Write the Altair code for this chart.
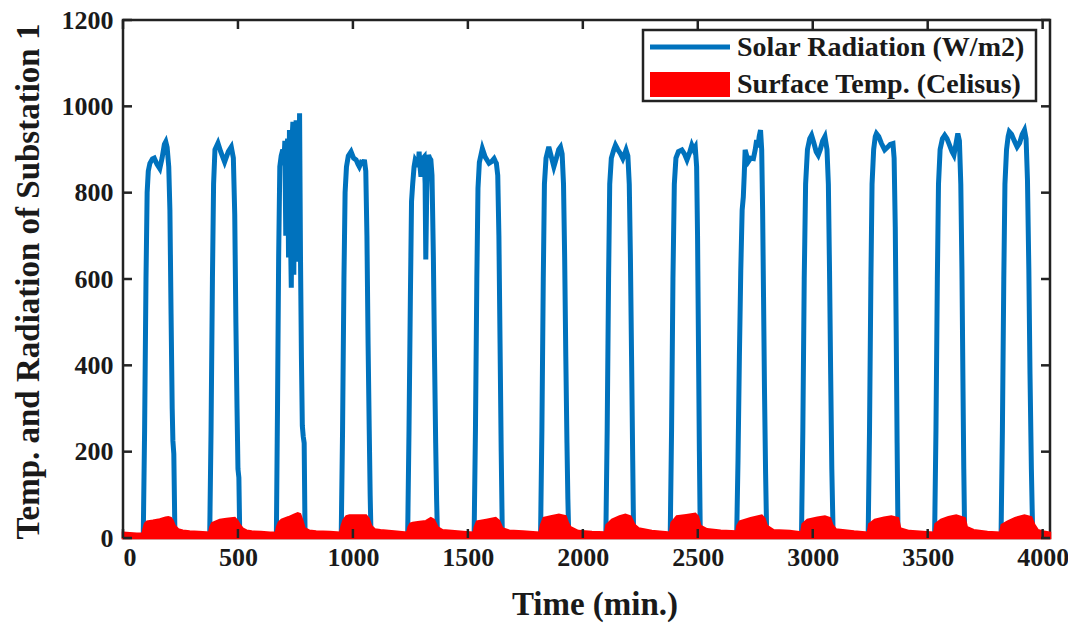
import altair as alt
import pandas as pd

# ---- axis definition values ----
x_ticks = [0, 500, 1000, 1500, 2000, 2500, 3000, 3500, 4000]
y_ticks = [0, 200, 400, 600, 800, 1000, 1200]
x_domain = [0, 4032]
y_domain = [0, 1200]
legend_labels = ["Solar Radiation (W/m2)", "Surface Temp. (Celisus)"]

# ---- solar radiation (W/m2), read per day: minute and value ----
day01_min = [88, 94, 100, 105, 110, 117, 128, 136, 148, 160, 170, 180, 186, 192, 199, 204, 209, 214, 217, 221, 226]
day01_rad = [0, 250, 600, 800, 850, 868, 878, 880, 866, 856, 880, 912, 918, 905, 860, 760, 520, 300, 225, 195, 0]
day02_min = [377, 383, 389, 394, 400, 413, 425, 442, 458, 471, 480, 486, 491, 496, 500, 504, 508]
day02_rad = [0, 250, 600, 820, 900, 915, 895, 871, 895, 906, 880, 750, 500, 300, 160, 140, 0]
day03_min = [667, 672, 677, 682, 688, 695, 700, 704, 708, 712, 716, 720, 724, 728, 732, 736, 739, 743,
             746, 750, 753, 757, 761, 764, 768, 772, 776, 780, 784, 788, 792]
day03_rad = [0, 300, 650, 860, 885, 900, 870, 920, 700, 890, 925, 650, 945, 720, 580, 930, 964, 610,
             960, 760, 968, 640, 935, 720, 984, 650, 420, 260, 235, 220, 0]
day04_min = [949, 955, 961, 966, 972, 980, 992, 1003, 1014, 1022, 1028, 1036, 1044, 1050, 1056, 1061, 1066, 1071, 1075, 1079]
day04_rad = [0, 250, 600, 800, 860, 885, 895, 880, 876, 866, 860, 870, 868, 876, 850, 700, 450, 250, 100, 0]
day05_min = [1238, 1244, 1250, 1255, 1260, 1266, 1271, 1278, 1284, 1288, 1292, 1296, 1300, 1305, 1310, 1314,
             1317, 1321, 1325, 1329, 1334, 1339, 1344, 1350, 1355, 1360, 1364, 1368]
day05_rad = [0, 250, 560, 780, 820, 860, 876, 870, 860, 895, 860, 837, 870, 880, 883, 822,
             645, 800, 870, 887, 880, 876, 840, 650, 420, 220, 90, 0]
day06_min = [1527, 1533, 1539, 1544, 1550, 1563, 1575, 1584, 1592, 1603, 1614, 1620, 1624, 1630, 1635, 1640, 1645, 1650]
day06_rad = [0, 250, 600, 810, 870, 902, 883, 875, 868, 872, 879, 872, 868, 840, 700, 450, 200, 0]
day07_min = [1816, 1822, 1828, 1833, 1840, 1852, 1862, 1874, 1885, 1895, 1903, 1910, 1916, 1921, 1926, 1931, 1935, 1939]
day07_rad = [0, 250, 600, 820, 880, 906, 885, 860, 880, 900, 906, 890, 820, 650, 420, 220, 90, 0]
day08_min = [2100, 2106, 2112, 2117, 2124, 2135, 2142, 2152, 2163, 2174, 2182, 2188, 2196, 2202, 2207, 2212, 2217, 2221]
day08_rad = [0, 250, 600, 820, 880, 900, 910, 900, 891, 879, 890, 899, 885, 820, 650, 420, 180, 0]
day09_min = [2380, 2386, 2392, 2398, 2405, 2416, 2431, 2442, 2453, 2464, 2474, 2482, 2489, 2495, 2499, 2503, 2507, 2511]
day09_rad = [0, 250, 600, 820, 880, 895, 899, 890, 876, 892, 910, 900, 906, 860, 700, 450, 200, 0]
day10_min = [2669, 2675, 2681, 2687, 2693, 2698, 2702, 2706, 2713, 2720, 2730, 2742, 2750, 2756, 2762,
             2767, 2773, 2778, 2782, 2786, 2790, 2795, 2800]
day10_rad = [0, 180, 420, 620, 760, 790, 840, 899, 885, 872, 880, 879, 900, 922, 905,
             930, 945, 900, 760, 560, 350, 150, 0]
day11_min = [2951, 2957, 2963, 2969, 2977, 2987, 2995, 3005, 3015, 3024, 3033, 3043, 3053, 3062, 3068, 3073, 3078, 3083, 3089]
day11_rad = [0, 250, 600, 820, 900, 925, 933, 915, 895, 887, 900, 920, 930, 900, 820, 620, 380, 160, 0]
day12_min = [3241, 3247, 3253, 3258, 3265, 3272, 3277, 3287, 3298, 3313, 3325, 3337, 3349, 3354, 3359, 3363, 3367, 3371]
day12_rad = [0, 250, 600, 820, 900, 930, 937, 930, 915, 899, 905, 912, 914, 880, 720, 480, 220, 0]
day13_min = [3530, 3536, 3542, 3547, 3554, 3564, 3574, 3584, 3595, 3606, 3614, 3622, 3631, 3638, 3644, 3649, 3653, 3657, 3661]
day13_rad = [0, 250, 600, 820, 900, 925, 933, 925, 910, 895, 887, 910, 937, 920, 820, 620, 380, 160, 0]
day14_min = [3819, 3825, 3831, 3836, 3843, 3850, 3855, 3865, 3877, 3889, 3900, 3911, 3921, 3928, 3934, 3940, 3945, 3951, 3957]
day14_rad = [0, 250, 600, 820, 900, 930, 941, 935, 920, 906, 915, 935, 945, 925, 830, 620, 380, 160, 0]

# ---- surface temperature (Celsius) ----
temp_min = [0, 30, 60, 85, 90, 96, 105, 130, 160, 185, 197, 208, 216, 225, 240, 260, 290, 330, 363,
            375, 380, 388, 421, 450, 486, 497, 508, 520, 537, 560, 600, 640,
            665, 670, 678, 690, 720, 746, 760, 770, 780, 790, 810, 840, 900,
            945, 951, 960, 972, 985, 1020, 1057, 1068, 1079, 1095, 1120, 1180,
            1236, 1242, 1250, 1260, 1290, 1318, 1339, 1352, 1368, 1390, 1430, 1480,
            1525, 1530, 1540, 1580, 1621, 1635, 1650, 1680, 1740,
            1812, 1818, 1830, 1860, 1896, 1925, 1935, 1945, 1980, 2040,
            2097, 2103, 2127, 2160, 2185, 2207, 2225, 2243, 2300, 2370,
            2380, 2386, 2409, 2450, 2489, 2500, 2511, 2540, 2600,
            2668, 2672, 2683, 2730, 2778, 2790, 2800, 2830, 2900,
            2950, 2956, 2977, 3020, 3053, 3075, 3085, 3100, 3180,
            3240, 3246, 3270, 3310, 3342, 3371, 3380, 3420, 3480,
            3528, 3534, 3558, 3590, 3624, 3661, 3670, 3700, 3760,
            3816, 3822, 3848, 3880, 3921, 3950, 3964, 3979, 4000, 4032]
temp_val = [12, 11, 10, 10, 22, 33, 38, 40, 43, 47, 48, 46, 40, 28, 20, 17, 15, 14, 13,
            12, 25, 34, 42, 44, 46, 40, 30, 22, 17, 15, 14, 12,
            12, 25, 36, 42, 48, 54, 57, 55, 40, 22, 17, 15, 14,
            12, 28, 42, 50, 52, 52, 52, 45, 28, 20, 18, 15,
            12, 25, 33, 35, 37, 39, 46, 42, 25, 18, 16, 14,
            12, 25, 38, 42, 46, 40, 22, 17, 15,
            12, 30, 46, 50, 54, 50, 35, 25, 16, 14,
            13, 30, 42, 50, 54, 50, 30, 22, 16, 13,
            13, 35, 50, 53, 56, 50, 28, 20, 17,
            15, 28, 38, 46, 52, 45, 28, 18, 16,
            13, 32, 42, 47, 50, 46, 30, 20, 15,
            12, 32, 42, 47, 50, 46, 22, 16, 14,
            12, 32, 42, 48, 52, 46, 25, 18, 14,
            12, 30, 38, 46, 52, 48, 30, 18, 15, 12]

# ---- assemble tables ----
days = [(day01_min, day01_rad), (day02_min, day02_rad), (day03_min, day03_rad), (day04_min, day04_rad),
        (day05_min, day05_rad), (day06_min, day06_rad), (day07_min, day07_rad), (day08_min, day08_rad),
        (day09_min, day09_rad), (day10_min, day10_rad), (day11_min, day11_rad), (day12_min, day12_rad),
        (day13_min, day13_rad), (day14_min, day14_rad)]
rad_m = [x_domain[0]]
rad_v = [0]
for m, v in days:
    rad_m += m
    rad_v += v
rad_m.append(x_domain[1])
rad_v.append(0)
rad_df = pd.DataFrame({"minute": rad_m, "value": rad_v})
temp_df = pd.DataFrame({"minute": temp_min, "value": temp_val})
xt_df = pd.DataFrame({"minute": x_ticks})
yt_df = pd.DataFrame({"value": y_ticks})

W, H = 927, 518
FONT = "Liberation Serif"
BLUE = "#0072BD"
RED = "#FF0000"
TICK = 9

xscale = alt.Scale(domain=x_domain, nice=False, zero=False)
yscale = alt.Scale(domain=y_domain, nice=False)

x_axis = alt.Axis(values=x_ticks, format="d", title="Time (min.)", ticks=False, domain=False, grid=False,
                  labelPadding=6, labelFontSize=26, titleFontSize=33,
                  labelFont=FONT, labelFontWeight="bold", labelColor="#1a1a1a",
                  titleFont=FONT, titleFontWeight="bold", titleColor="#1a1a1a",
                  titleX=W / 2 + 8, titleY=66, titleBaseline="middle")
y_axis = alt.Axis(values=y_ticks, format="d", title="Temp. and Radiation of Substation 1", ticks=False,
                  domain=False, grid=False, labelPadding=10, labelFontSize=26, titleFontSize=33,
                  labelFont=FONT, labelFontWeight="bold", labelColor="#1a1a1a",
                  titleFont=FONT, titleFontWeight="bold", titleColor="#1a1a1a",
                  titleX=-95, titleY=H / 2 + 2, titleBaseline="middle")

line = alt.Chart(rad_df).mark_line(color=BLUE, strokeWidth=5, clip=True).encode(
    x=alt.X("minute:Q", scale=xscale, axis=x_axis),
    y=alt.Y("value:Q", scale=yscale, axis=y_axis),
)

area = alt.Chart(temp_df).mark_area(color=RED, stroke=RED, strokeWidth=2.5, opacity=1).encode(
    x=alt.X("minute:Q", scale=xscale),
    y=alt.Y("value:Q", scale=yscale),
)

xt_bottom = alt.Chart(xt_df).mark_rule(color="#222222", strokeWidth=2.5).encode(
    x=alt.X("minute:Q", scale=xscale), y=alt.value(H), y2=alt.value(H - TICK))
xt_top = alt.Chart(xt_df).mark_rule(color="#222222", strokeWidth=2.5).encode(
    x=alt.X("minute:Q", scale=xscale), y=alt.value(0), y2=alt.value(TICK))
yt_left = alt.Chart(yt_df).mark_rule(color="#222222", strokeWidth=2.5).encode(
    y=alt.Y("value:Q", scale=yscale), x=alt.value(0), x2=alt.value(TICK))
yt_right = alt.Chart(yt_df).mark_rule(color="#222222", strokeWidth=2.5).encode(
    y=alt.Y("value:Q", scale=yscale), x=alt.value(W), x2=alt.value(W - TICK))

# ---- legend (drawn inside the top-right corner) ----
lg1 = pd.DataFrame({"label": [legend_labels[0]]})
lg2 = pd.DataFrame({"label": [legend_labels[1]]})
leg_box = alt.Chart(lg1).mark_rect(fill="white", stroke="#222222", strokeWidth=2.5).encode(
    x=alt.value(520), x2=alt.value(913), y=alt.value(10), y2=alt.value(81))
leg_line = alt.Chart(lg1).mark_rule(color=BLUE, strokeWidth=5).encode(
    x=alt.value(527), x2=alt.value(607), y=alt.value(27))
leg_rect = alt.Chart(lg2).mark_rect(color=RED).encode(
    x=alt.value(527), x2=alt.value(607), y=alt.value(52), y2=alt.value(77))
leg_t1 = alt.Chart(lg1).mark_text(align="left", baseline="middle", font=FONT, fontWeight="bold",
                                  fontSize=28, color="#1a1a1a").encode(
    x=alt.value(614), y=alt.value(28), text="label:N")
leg_t2 = alt.Chart(lg2).mark_text(align="left", baseline="middle", font=FONT, fontWeight="bold",
                                  fontSize=28, color="#1a1a1a").encode(
    x=alt.value(614), y=alt.value(65), text="label:N")

chart = alt.layer(
    line, area, xt_bottom, xt_top, yt_left, yt_right,
    leg_box, leg_line, leg_rect, leg_t1, leg_t2,
).properties(
    width=W, height=H,
    background="white",
    autosize=alt.AutoSizeParams(type="none"),
    padding={"left": 115, "top": 12, "right": 18, "bottom": 89},
).configure_view(
    stroke="#222222", strokeWidth=2.5,
)

chart.save("out.html", embed_options={"renderer": "svg", "actions": False})
